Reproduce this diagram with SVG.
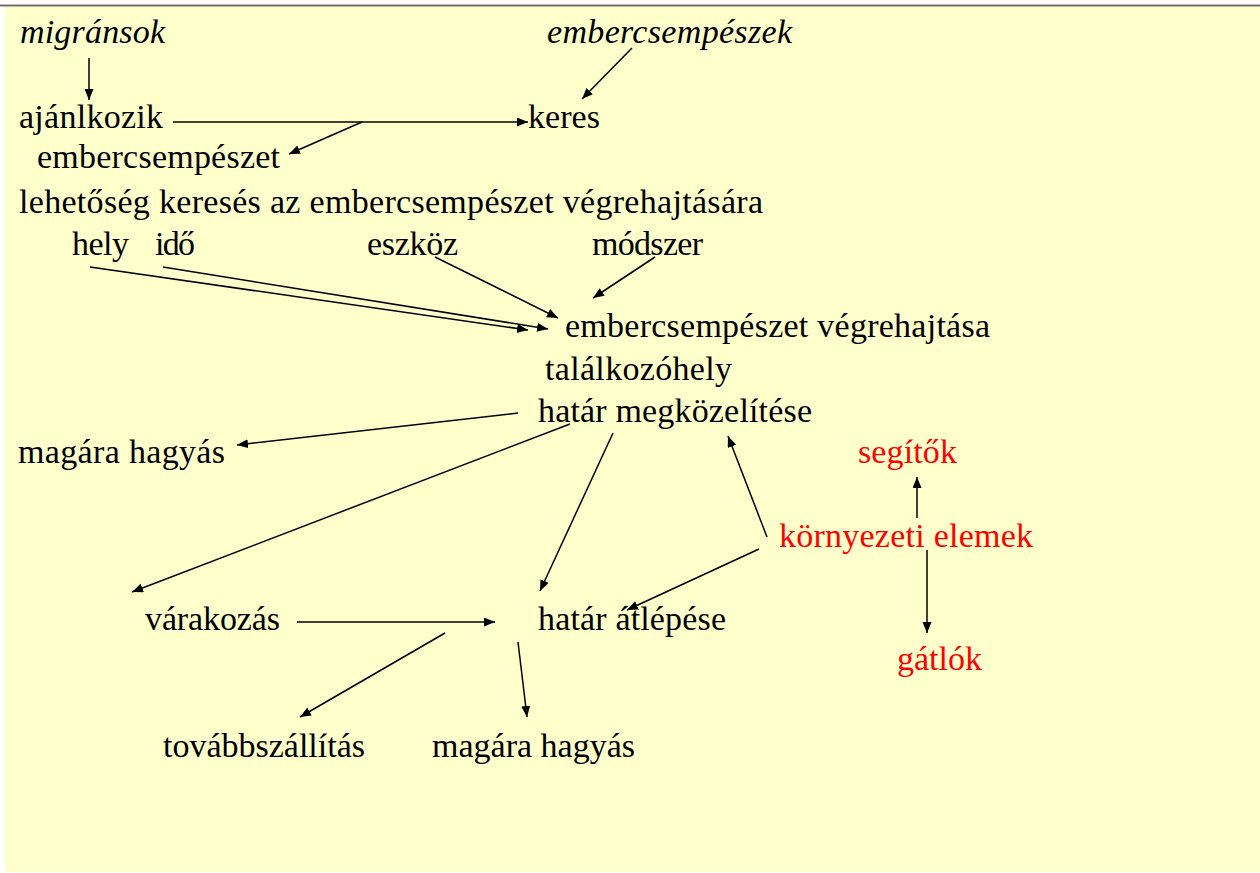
<svg xmlns="http://www.w3.org/2000/svg" width="1260" height="873" viewBox="0 0 1260 873">
<defs>
<style>
.t{font-size:34px;fill:#000}
.i{font-style:italic}
.r{fill:#FF0000}
.c line{stroke:#000;stroke-width:1.5;marker-end:url(#ah)}
</style>
<marker id="ah" markerUnits="userSpaceOnUse" markerWidth="12" markerHeight="10" refX="11" refY="4.5" orient="auto">
<path d="M0,0 L11,4.5 L0,9 z" fill="#000"/>
</marker>
</defs>
<rect x="0" y="0" width="1260" height="873" fill="#FFFFFF"/>
<rect x="5" y="6" width="1255" height="866" fill="#FFFFCC"/>
<line x1="0" y1="5.5" x2="1260" y2="5.5" stroke="#707070" stroke-width="2"/>

<g id="connectors" class="c">
<line x1="89" y1="58" x2="89" y2="100"/>
<line x1="173" y1="122" x2="528" y2="122"/>
<line x1="362" y1="122" x2="289" y2="154"/>
<line x1="632" y1="48" x2="582" y2="99"/>
<line x1="90" y1="267" x2="528" y2="330"/>
<line x1="163" y1="267" x2="548" y2="329"/>
<line x1="435" y1="257" x2="558" y2="318"/>
<line x1="655" y1="257" x2="593" y2="298"/>
<line x1="518" y1="413" x2="237" y2="445"/>
<line x1="570" y1="424" x2="132" y2="592"/>
<line x1="613" y1="433" x2="540" y2="591"/>
<line x1="767" y1="537" x2="728" y2="436"/>
<line x1="759" y1="549" x2="627" y2="610"/>
<line x1="297" y1="622" x2="495" y2="622"/>
<line x1="445" y1="633" x2="300" y2="717"/>
<line x1="518" y1="642" x2="527" y2="717"/>
<line x1="917" y1="518" x2="917" y2="477"/>
<line x1="927" y1="550" x2="927" y2="633"/>
</g>

<g id="nodes" font-family="Liberation Serif, Times New Roman, serif">
<g id="n-migransok"><text class="t i" x="20" y="43" textLength="145">migránsok</text></g>
<g id="n-embercsempeszek"><text class="t i" x="547" y="43" textLength="245">embercsempészek</text></g>
<g id="n-ajanlkozik"><text class="t" x="19" y="128" textLength="144">ajánlkozik</text></g>
<g id="n-keres"><text class="t" x="528" y="128" textLength="72">keres</text></g>
<g id="n-embercsempeszet"><text class="t" x="37" y="168" textLength="243">embercsempészet</text></g>
<g id="n-lehetoseg"><text class="t" x="19" y="213" textLength="744">lehetőség keresés az embercsempészet végrehajtására</text></g>
<g id="n-hely"><text class="t" x="72" y="255" textLength="57">hely</text></g>
<g id="n-ido"><text class="t" x="155" y="255" textLength="40">idő</text></g>
<g id="n-eszkoz"><text class="t" x="367" y="255" textLength="91">eszköz</text></g>
<g id="n-modszer"><text class="t" x="592" y="255" textLength="111">módszer</text></g>
<g id="n-vegrehajtasa"><text class="t" x="565" y="337" textLength="425">embercsempészet végrehajtása</text></g>
<g id="n-talalkozohely"><text class="t" x="545" y="380" textLength="187">találkozóhely</text></g>
<g id="n-hatar-megk"><text class="t" x="538" y="422" textLength="274">határ megközelítése</text></g>
<g id="n-magara1"><text class="t" x="18" y="463" textLength="207">magára hagyás</text></g>
<g id="n-segitok"><text class="t r" x="858" y="463" textLength="99">segítők</text></g>
<g id="n-kornyezeti"><text class="t r" x="779" y="547" textLength="254">környezeti elemek</text></g>
<g id="n-varakozas"><text class="t" x="145" y="630" textLength="135">várakozás</text></g>
<g id="n-hatar-atl"><text class="t" x="538" y="630" textLength="188">határ átlépése</text></g>
<g id="n-gatlok"><text class="t r" x="897" y="670" textLength="85">gátlók</text></g>
<g id="n-tovabb"><text class="t" x="163" y="757" textLength="202">továbbszállítás</text></g>
<g id="n-magara2"><text class="t" x="432" y="757" textLength="203">magára hagyás</text></g>
</g>
</svg>
